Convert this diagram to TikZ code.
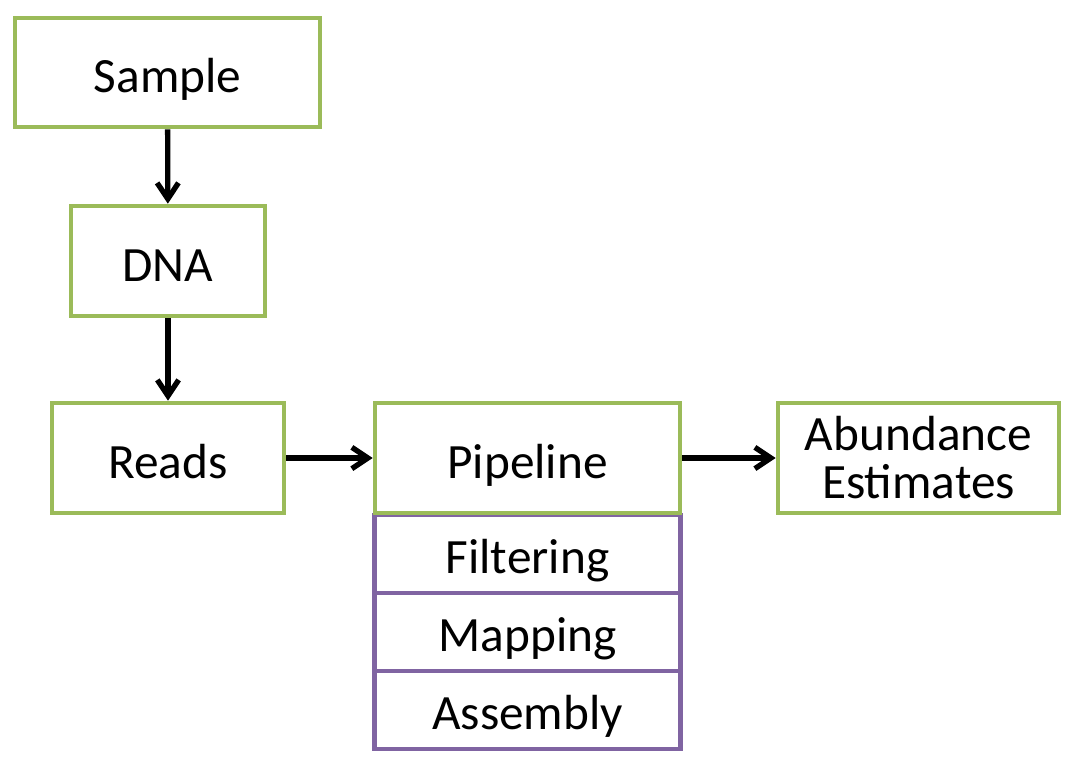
\documentclass[tikz,border=0pt]{standalone}
\usepackage{fontspec}
\setmainfont{Carlito}
\usetikzlibrary{arrows.meta}
\definecolor{boxgreen}{HTML}{9BBB59}
\definecolor{boxpurple}{HTML}{8064A2}
\tikzset{
  px/.style={x=0.75pt,y=-0.75pt},
  gbox/.style={draw=boxgreen, line width=3.5pt, fill=white, inner sep=0pt, font=\fontsize{37}{36}\selectfont, align=center},
  one/.style={text height=30pt, text depth=0pt},
  pbox/.style={draw=boxpurple, line width=3.5pt, fill=white, inner sep=0pt, font=\fontsize{37}{36}\selectfont, minimum width=229.5pt, minimum height=58.5pt, text height=29pt, text depth=0pt},
  flow/.style={line width=4pt, -{Straight Barb[length=12pt,width=16pt,line width=4pt]}}
}
\begin{document}
\begin{tikzpicture}[px]
\useasboundingbox (0,0) rectangle (1072,768);
\node[pbox] (filt) at (527.5,554) {Filtering};
\node[pbox] (map) at (527.5,632) {Mapping};
\node[pbox] (asm) at (527.5,710) {Assembly};
\node[gbox, one, minimum width=228.75pt, minimum height=81.75pt] (sample) at (167.5,72.5) {Sample};
\node[gbox, one, minimum width=145.5pt, minimum height=82.5pt] (dna) at (168,261) {DNA};
\node[gbox, one, minimum width=174pt, minimum height=82.5pt] (reads) at (168,458) {Reads};
\node[gbox, one, minimum width=228.75pt, minimum height=82.5pt] (pipe) at (527.5,458) {Pipeline};
\node[gbox, minimum width=210.75pt, minimum height=82.5pt] (abund) at (918.5,458) {Abundance\\Estimates};
\draw[flow] (sample) -- (dna);
\draw[flow] (dna) -- (reads);
\draw[flow] (reads) -- (pipe);
\draw[flow] (pipe) -- (abund);
\end{tikzpicture}
\end{document}
